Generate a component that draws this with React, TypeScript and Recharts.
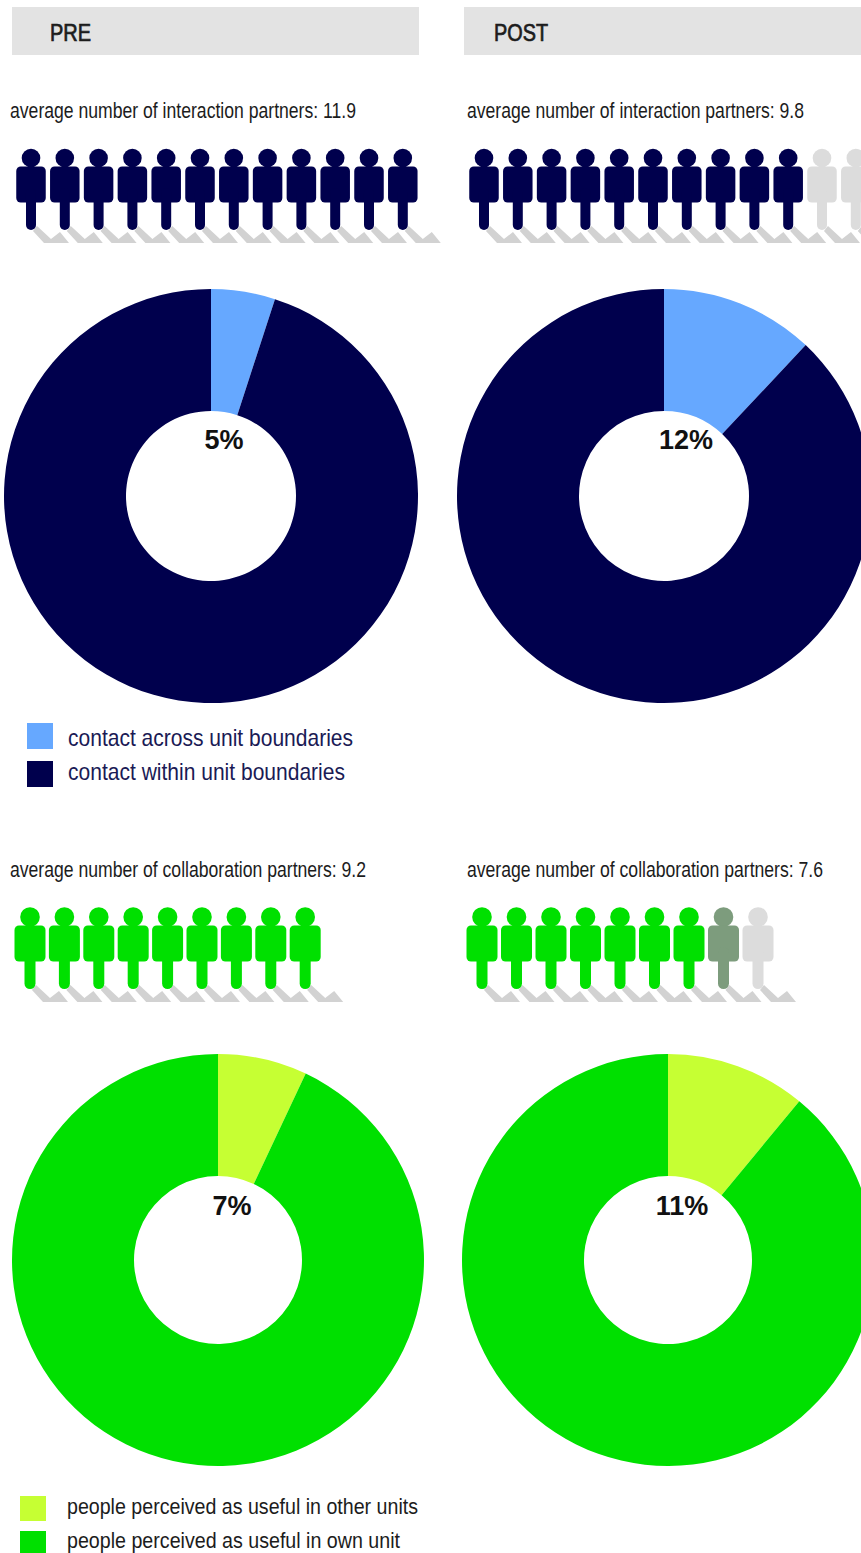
import { PieChart, Pie, Cell, ScatterChart, Scatter, XAxis, YAxis } from "recharts";

const NAVY = "#00004d";
const SKY = "#66a8ff";
const GREEN = "#00e000";
const LIME = "#c6ff33";
const SHADOW = "#d2d2d2";
const GREY = "#dcdcdc";
const MUTED = "#7d9c7d";

const interactionPre = [5, 95];
const interactionPost = [12, 88];
const collaborationPre = [7, 93];
const collaborationPost = [11, 89];

// 1 = full person, 0.5 = partial, 0 = not reached
const peopleInteractionPre = [1, 1, 1, 1, 1, 1, 1, 1, 1, 1, 1, 1];
const peopleInteractionPost = [1, 1, 1, 1, 1, 1, 1, 1, 1, 1, 0, 0];
const peopleCollaborationPre = [1, 1, 1, 1, 1, 1, 1, 1, 1];
const peopleCollaborationPost = [1, 1, 1, 1, 1, 1, 1, 0.5, 0];

const FONT = "'Liberation Sans', Arial, sans-serif";

function toPoints(values: number[]) {
  return values.map((status, i) => ({ x: i, y: 0, status }));
}

function ShadowShape({ cx, cy }: any) {
  const pts = [
    [2, 73],
    [6, 68],
    [20, 81],
    [29, 74],
    [38, 85],
    [13, 85],
  ];
  return <polygon points={pts.map((p) => `${cx + p[0]},${cy + p[1]}`).join(" ")} fill={SHADOW} />;
}

function personShape(color: string, head: number, bodyW: number, legW: number) {
  return function PersonShape({ cx, cy, payload }: any) {
    const fill = payload.status === 1 ? color : payload.status === 0 ? GREY : MUTED;
    return (
      <g fill={fill}>
        <circle cx={cx} cy={cy} r={head} />
        <rect x={cx - bodyW / 2} y={cy + 8.5} width={bodyW} height={36} rx={4.5} />
        <rect x={cx - legW / 2} y={cy + 30} width={legW} height={42} rx={legW / 2} />
      </g>
    );
  };
}

function PeopleRow({ left, top, step, values, color, head, bodyW, legW }: any) {
  const width = step * (values.length - 1);
  const points = toPoints(values);
  const pad = 50;
  return (
    <div style={{ position: "absolute", left: left - pad, top: top - 20 }}>
      <ScatterChart
        width={width + pad * 2}
        height={140}
        margin={{ top: 0, right: pad, bottom: 100, left: pad }}
        style={{ overflow: "visible" }}
      >
        <XAxis type="number" dataKey="x" domain={[0, values.length - 1]} hide />
        <YAxis type="number" dataKey="y" domain={[-1, 1]} hide />
        <Scatter data={points} shape={ShadowShape} isAnimationActive={false} />
        <Scatter data={points} shape={personShape(color, head, bodyW, legW)} isAnimationActive={false} />
      </ScatterChart>
    </div>
  );
}

function Donut({ cx, cy, outer, inner, data, colors }: any) {
  return (
    <Pie
      data={data.map((value: number) => ({ value }))}
      dataKey="value"
      cx={cx}
      cy={cy}
      outerRadius={outer}
      innerRadius={inner}
      startAngle={90}
      endAngle={-270}
      stroke="none"
      isAnimationActive={false}
    >
      {data.map((_: number, i: number) => (
        <Cell key={i} fill={colors[i]} />
      ))}
    </Pie>
  );
}

function Label({ x, y, len, size, fill = "#1c1c1c", heavy, stretch = 1, children }: any) {
  return (
    <text
      transform={`translate(${x} ${y}) scale(1 ${stretch})`}
      fontSize={size}
      fill={fill}
      stroke={heavy ? fill : "none"}
      strokeWidth={heavy ? 0.7 : 0}
      textLength={len}
      lengthAdjust="spacingAndGlyphs"
      fontFamily={FONT}
    >
      {children}
    </text>
  );
}

function Percent({ x, y, value }: any) {
  return (
    <text x={x} y={y} fontSize={27} fontWeight="bold" textAnchor="middle" fill="#111" fontFamily={FONT}>
      {value}%
    </text>
  );
}

export default function App() {
  return (
    <div style={{ position: "absolute", left: 0, top: 0, width: 861, height: 1553, overflow: "hidden", background: "#fff" }}>
      <div style={{ position: "absolute", left: 0, top: 0 }}>
        <PieChart width={861} height={1553} margin={{ top: 0, right: 0, bottom: 0, left: 0 }}>
          <Donut cx={211} cy={496} outer={207} inner={85} data={interactionPre} colors={[SKY, NAVY]} />
          <Donut cx={664} cy={496} outer={207} inner={85} data={interactionPost} colors={[SKY, NAVY]} />
          <Donut cx={218} cy={1260} outer={206} inner={84} data={collaborationPre} colors={[LIME, GREEN]} />
          <Donut cx={668} cy={1260} outer={206} inner={84} data={collaborationPost} colors={[LIME, GREEN]} />
        </PieChart>
      </div>

      <PeopleRow left={31} top={158} step={33.8} values={peopleInteractionPre} color={NAVY} head={9.3} bodyW={29.5} legW={10} />
      <PeopleRow left={484} top={158} step={33.8} values={peopleInteractionPost} color={NAVY} head={9.3} bodyW={29.5} legW={10} />
      <PeopleRow left={29.5} top={917} step={34.4} values={peopleCollaborationPre} color={GREEN} head={9.8} bodyW={31} legW={11} />
      <PeopleRow left={482} top={917} step={34.5} values={peopleCollaborationPost} color={GREEN} head={9.8} bodyW={31} legW={11} />

      <svg width={861} height={1553} style={{ position: "absolute", left: 0, top: 0, pointerEvents: "none" }}>
        <rect x={12} y={7} width={407} height={48} fill="#e3e3e3" />
        <rect x={464} y={7} width={397} height={48} fill="#e3e3e3" />
        <Label x={50} y={41} len={41} size={23} heavy>PRE</Label>
        <Label x={494} y={41} len={54} size={23} heavy>POST</Label>

        <Label x={10} y={117.5} len={346} size={19} stretch={1.12}>average number of interaction partners: 11.9</Label>
        <Label x={467} y={117.5} len={337} size={19} stretch={1.12}>average number of interaction partners: 9.8</Label>
        <Label x={10} y={876.5} len={356} size={19} stretch={1.12}>average number of collaboration partners: 9.2</Label>
        <Label x={467} y={876.5} len={356} size={19} stretch={1.12}>average number of collaboration partners: 7.6</Label>

        <Percent x={224} y={449} value={interactionPre[0]} />
        <Percent x={686} y={449} value={interactionPost[0]} />
        <Percent x={232} y={1215} value={collaborationPre[0]} />
        <Percent x={682} y={1215} value={collaborationPost[0]} />

        <rect x={27} y={723} width={26} height={26} fill={SKY} />
        <rect x={27} y={761} width={26} height={26} fill={NAVY} />
        <Label x={68} y={746} len={285} size={24} fill="#1a1a55">contact across unit boundaries</Label>
        <Label x={68} y={780} len={277} size={24} fill="#1a1a55">contact within unit boundaries</Label>

        <rect x={20} y={1496} width={26} height={25} fill={LIME} />
        <rect x={20} y={1531} width={26} height={22} fill={GREEN} />
        <Label x={67} y={1514} len={351} size={22}>people perceived as useful in other units</Label>
        <Label x={67} y={1548} len={333} size={22}>people perceived as useful in own unit</Label>
      </svg>
    </div>
  );
}
